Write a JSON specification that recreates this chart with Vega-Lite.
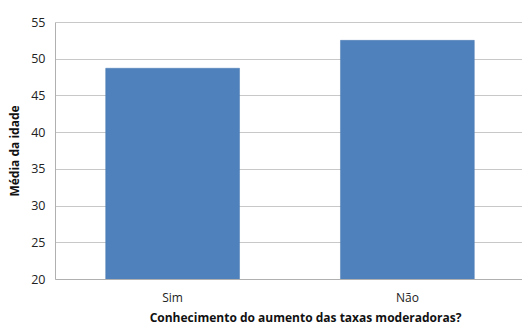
{
  "$schema": "https://vega.github.io/schema/vega-lite/v6.json",
  "autosize": "none",
  "width": 470,
  "height": 257,
  "padding": {"left": 55, "top": 22, "right": 0, "bottom": 46},
  "background": "white",
  "data": {"values": [
    {"resposta": "Sim", "media": 48.7},
    {"resposta": "Não", "media": 52.5}
  ]},
  "mark": {"type": "bar", "color": "#4F81BD", "stroke": "#4a7ab3", "strokeWidth": 0.5, "clip": true},
  "encoding": {
    "x": {
      "field": "resposta", "type": "nominal", "sort": ["Sim", "Não"],
      "scale": {"paddingInner": 0.43, "paddingOuter": 0.216},
      "axis": {
        "title": "Conhecimento do aumento das taxas moderadoras?",
        "labelAngle": 0, "labelFont": "Open Sans", "labelFontSize": 12, "labelColor": "#222",
        "titleFont": "Open Sans", "titleFontSize": 12, "titleFontWeight": "bold", "titleColor": "#111",
        "titleX": 250,
        "domainColor": "#b0b0b0", "ticks": false, "labelPadding": 13, "titlePadding": 9
      }
    },
    "y": {
      "field": "media", "type": "quantitative",
      "scale": {"domain": [20, 55], "nice": false, "zero": false},
      "axis": {
        "title": "Média da idade", "values": [20, 25, 30, 35, 40, 45, 50, 55],
        "labelFont": "Open Sans", "labelFontSize": 12.5, "labelColor": "#222",
        "titleFont": "Open Sans", "titleFontSize": 12, "titleFontWeight": "bold", "titleColor": "#111",
        "domainColor": "#b0b0b0", "gridColor": "#c8c8c8", "ticks": false, "labelPadding": 10, "titlePadding": 9
      }
    }
  },
  "config": {"view": {"stroke": null}}
}
